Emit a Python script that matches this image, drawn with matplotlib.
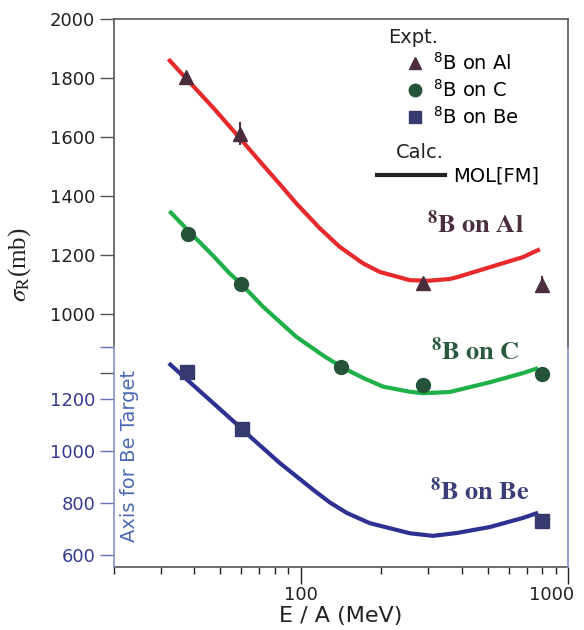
import matplotlib
matplotlib.use("Agg")
import matplotlib.pyplot as plt
from matplotlib.lines import Line2D
from matplotlib.transforms import ScaledTranslation

# experimental points (E/A in MeV, sigma_R in mb)
al_e = [37.3, 59.1, 287, 800]
al_sig = [1802, 1612, 1105, 1100]
al_err = [10, 38, 10, 30]
c_e = [38.0, 59.6, 142, 287, 800]
c_sig = [1271, 1101, 821, 759, 797]
be_e = [37.7, 60.5, 800]
be_sig = [1306, 1087, 731]

# MOL[FM] calculations
al_calc_e = [32.0, 37.4, 47, 59.1, 72.3, 83.4, 96.3, 117.8, 139.9, 171, 197.6, 256, 300,
             361, 384, 510, 678, 785]
al_calc = [1864, 1797, 1700, 1597, 1505, 1441, 1375, 1291, 1228, 1172, 1143, 1115, 1113,
           1119, 1125, 1159, 1193, 1220]
c_calc_e = [32.3, 38.4, 47, 54.2, 59.6, 72.3, 96.3, 121.2, 142, 171, 203.7, 256, 286.6,
            361, 510, 678, 773]
c_calc = [1349, 1278, 1198, 1138, 1104, 1025, 923, 860, 821, 784, 754, 737, 732,
          736, 769, 800, 817]
be_calc_e = [32.1, 38, 47, 60.6, 64.4, 83.4, 111.2, 128.4, 148.3, 181.1, 256, 312, 384,
             510, 678, 773]
be_calc = [1339, 1271, 1186, 1084, 1058, 955, 852, 803, 763, 723, 684, 674, 685,
           708, 743, 763]

GRAY = "#555555"
fig = plt.figure(figsize=(5.84, 6.3), dpi=100)
ax = fig.add_axes([0.195, 0.1, 0.7776, 0.8698])
ax2 = ax.twinx()

ax.set_xscale("log")
ax.set_xlim(20, 1000)
ax.set_ylim(143, 2000)
ax2.set_ylim(554, 2665)

ax.plot(al_calc_e, al_calc, color="#e8292c", lw=3, solid_capstyle="butt", solid_joinstyle="round")
ax.plot(c_calc_e, c_calc, color="#1fb04a", lw=3, solid_capstyle="butt", solid_joinstyle="round")
ax2.plot(be_calc_e, be_calc, color="#2e3192", lw=3, solid_capstyle="butt", solid_joinstyle="round")

ax.errorbar(al_e, al_sig, yerr=al_err, fmt="^", color="#4b2e3e", ms=10, elinewidth=1.5, capsize=0)
ax.plot(c_e, c_sig, "o", color="#25533a", ms=10)
ax2.plot(be_e, be_sig, "s", color="#373a6e", ms=9.5)

# axes styling
ax.set_xticks([100, 1000], ["100", "1000"])
ax.set_xticks([v * d for d in (10, 100) for v in range(2, 10)], minor=True)
ax.tick_params(axis="x", which="major", direction="out", length=12, width=1, pad=2,
               labelsize=13, colors="#222222")
ax.tick_params(axis="x", which="minor", direction="out", length=5, width=1, colors="#222222")
lbl = ax.get_xticklabels()[1]
lbl.set_transform(lbl.get_transform() + ScaledTranslation(-0.165, 0, fig.dpi_scale_trans))
ax.set_yticks([800, 1000, 1200, 1400, 1600, 1800, 2000], ["", "1000", "1200", "1400", "1600", "1800", "2000"])
ax.tick_params(axis="y", direction="out", length=10, width=1, labelsize=13, colors=GRAY, labelcolor="#222222")

ax2.yaxis.tick_left()
ax2.set_yticks([600, 800, 1000, 1200, 1400], ["600", "800", "1000", "1200", ""])
ax2.tick_params(axis="y", direction="out", length=10, width=1, labelsize=13, colors="#6a70b8", labelcolor="#363a90")

for s in ("top", "left", "right", "bottom"):
    ax.spines[s].set_color(GRAY)
    ax.spines[s].set_linewidth(1.2)
ax.spines["left"].set_bounds(885, 2000)
ax.spines["right"].set_bounds(885, 2000)
ax2.spines["top"].set_visible(False)
ax2.spines["bottom"].set_visible(False)
ax2.spines["left"].set_visible(True)
for s in ("left", "right"):
    ax2.spines[s].set_bounds(554, 1400)
    ax2.spines[s].set_color("#8890cc")
    ax2.spines[s].set_linewidth(1.2)

ax.set_xlabel("E / A (MeV)", fontsize=16, color="#222222", labelpad=1)
ax.set_ylabel(r"$\sigma_{\rm R}$(mb)", fontsize=18, family="Liberation Serif",
              math_fontfamily="stix", color="#222222")
ax.yaxis.set_label_coords(-0.178, 0.551)
ax.text(0.035, 0.2025, "Axis for Be Target", transform=ax.transAxes, rotation=90,
        fontsize=14, color="#4d6ab5", ha="center", va="center")

# labels on curves
ax.text(449, 1302, r"$^{\mathbf{8}}\mathbf{B\ on\ Al}$", math_fontfamily="stix",
        fontsize=19, color="#4b2e3e", ha="center", va="center")
ax.text(449, 871, r"$^{\mathbf{8}}\mathbf{B\ on\ C}$", math_fontfamily="stix",
        fontsize=19, color="#2a5a3e", ha="center", va="center")
ax2.text(468, 842, r"$^{\mathbf{8}}\mathbf{B\ on\ Be}$", math_fontfamily="stix",
         fontsize=19, color="#3a3d78", ha="center", va="center")

# legends
ax.text(0.6035, 0.967, "Expt.", transform=ax.transAxes, fontsize=14, color="#222222",
        ha="left", va="center")
ax.text(0.6211, 0.757, "Calc.", transform=ax.transAxes, fontsize=14, color="#222222",
        ha="left", va="center")
expt = [Line2D([], [], ls="none", marker="^", color="#4b2e3e", ms=9),
        Line2D([], [], ls="none", marker="o", color="#25533a", ms=9),
        Line2D([], [], ls="none", marker="s", color="#373a6e", ms=8.5)]
leg1 = ax.legend(expt, [r"$^8$B on Al", r"$^8$B on C", r"$^8$B on Be"],
                 loc="center left", bbox_to_anchor=(0.641, 0.871), frameon=False,
                 fontsize=14, handlelength=1.0, handletextpad=0.45,
                 labelspacing=0.25, borderpad=0, borderaxespad=0)
ax.add_artist(leg1)
calc = [Line2D([], [], color="#222222", lw=3)]
ax.legend(calc, ["MOL[FM]"], loc="center left", bbox_to_anchor=(0.579, 0.713),
          frameon=False, fontsize=14, handlelength=3.5, handletextpad=0.4,
          borderpad=0, borderaxespad=0)

fig.savefig("out.png", dpi=100)
plt.close(fig)
